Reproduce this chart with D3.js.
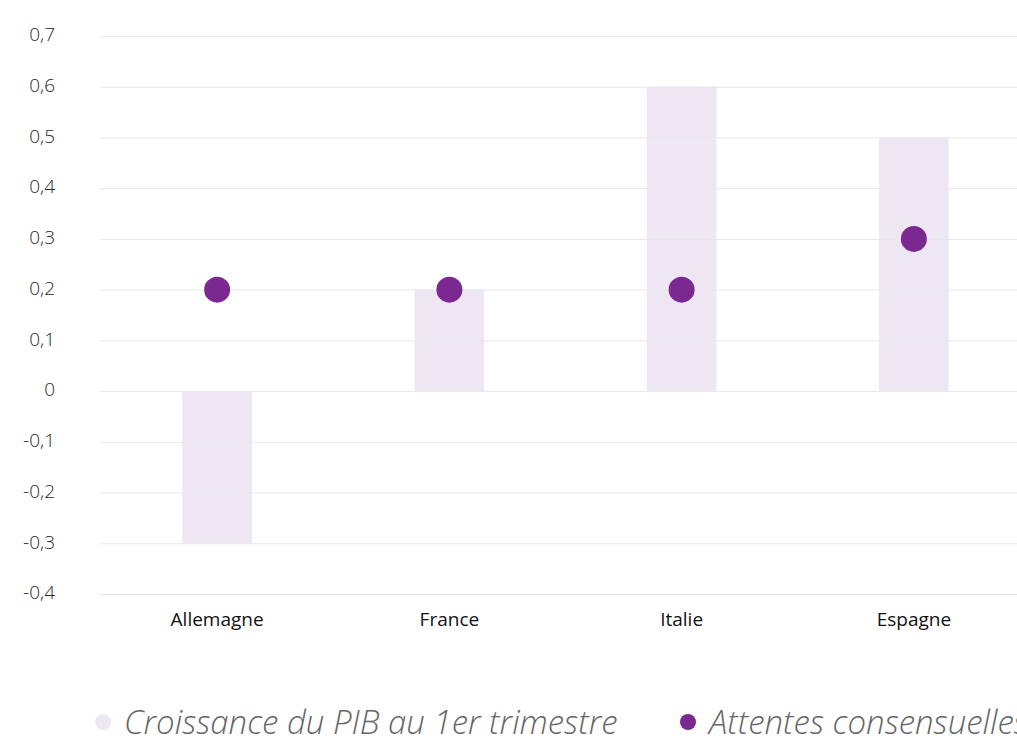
<!DOCTYPE html>
<html><head><meta charset="utf-8">
<script src="https://cdn.jsdelivr.net/npm/d3@7"></script>
<style>
html,body{margin:0;padding:0;background:#fff;overflow:hidden;}
svg{display:block;}
</style></head>
<body>
<svg id="chart" width="1017" height="743"></svg>
<script>
const categories = ["Allemagne", "France", "Italie", "Espagne"];
const growthQ1 = [-0.3, 0.2, 0.6, 0.5];
const consensus = [0.2, 0.2, 0.2, 0.3];
const yTicks = [-0.4, -0.3, -0.2, -0.1, 0, 0.1, 0.2, 0.3, 0.4, 0.5, 0.6, 0.7];
const seriesNames = ["Croissance du PIB au 1er trimestre", "Attentes consensuelles"];

const barColor = "#efe6f3";
const dotColor = "#7b2890";
const svg = d3.select("#chart");

const mLeft = 101, mRight = 1030, mTop = 36, mBottom = 594;
const x = d3.scaleBand().domain(categories).range([mLeft, mRight]).paddingInner(0.7).paddingOuter(0.35);
const y = d3.scaleLinear().domain([-0.4, 0.7]).range([mBottom, mTop]);

// bars
svg.append("g").selectAll("rect").data(categories).join("rect")
  .attr("x", d => x(d))
  .attr("width", x.bandwidth())
  .attr("y", (d,i) => y(Math.max(0, growthQ1[i])))
  .attr("height", (d,i) => Math.abs(y(growthQ1[i]) - y(0)))
  .attr("fill", barColor);

// grid
const fmt = d => Math.abs(d) < 1e-9 ? "0" : d3.format(".1f")(d).replace(".", ",").replace("−", "-");
const yAxis = d3.axisLeft(y).tickValues(yTicks).tickSize(-(1017 - 100)).tickPadding(45).tickFormat(fmt);
const gy = svg.append("g").attr("transform", "translate(100,0)").call(yAxis);
gy.select(".domain").remove();
gy.selectAll(".tick line").attr("stroke", "#e8e6ea").attr("stroke-width", 1);
gy.selectAll(".tick text").attr("fill", "#2a2a2a").attr("font-family", "'Open Sans', sans-serif")
  .attr("font-weight", 300).attr("font-size", 19).attr("dy", "0.25em");

// x axis labels
const xAxis = d3.axisBottom(x).tickSize(0).tickPadding(19);
const gx = svg.append("g").attr("transform", `translate(0,${mBottom})`).call(xAxis);
gx.select(".domain").remove();
gx.selectAll(".tick text").attr("fill", "#111").attr("font-family", "'Open Sans', sans-serif")
  .attr("font-size", 19);

// dots
svg.append("g").selectAll("circle").data(categories).join("circle")
  .attr("cx", d => x(d) + x.bandwidth()/2)
  .attr("cy", (d,i) => y(consensus[i]))
  .attr("r", 13)
  .attr("fill", dotColor);

// legend
const legend = svg.append("g").attr("font-family", "'Open Sans', sans-serif");
const legX = [103, 688];
const legColors = [barColor, dotColor];
seriesNames.forEach((n, i) => {
  legend.append("circle").attr("cx", legX[i]).attr("cy", 722).attr("r", 8).attr("fill", legColors[i]);
  legend.append("text").attr("x", legX[i] + 21).attr("y", 734).text(n)
    .attr("font-size", 33).attr("font-style", "italic").attr("font-weight", 300).attr("fill", "#666");
});
</script>
</body></html>
